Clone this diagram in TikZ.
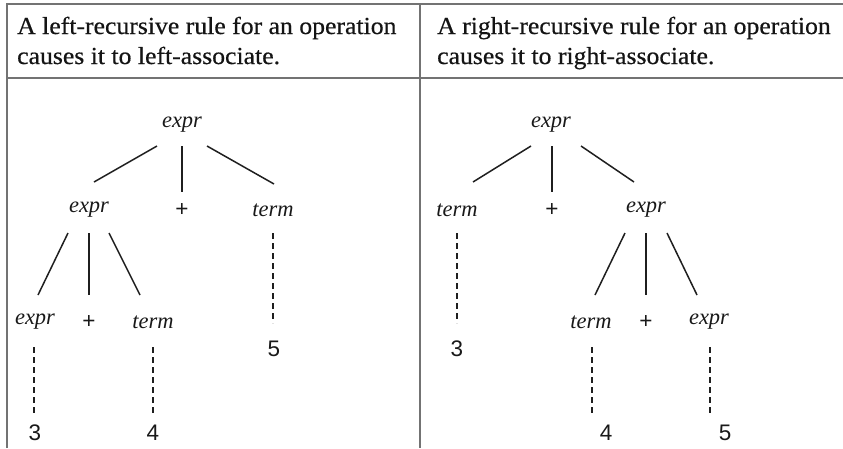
\documentclass[tikz,border=0pt]{standalone}
\usepackage{fontspec}
\setmainfont{Liberation Serif}
\newfontfamily\headfont[FakeStretch=1.05,FakeBold=0.5]{Liberation Serif}
\newfontfamily\symfont{Liberation Sans}
\begin{document}
\begin{tikzpicture}[x=1pt,y=-1pt,
  frame/.style={draw=black!55,line width=1.6pt},
  headtext/.style={anchor=base west,inner sep=0pt,text=black!92,font=\headfont\fontsize{24.5}{29}\selectfont},
  sym/.style={inner sep=0pt,text=black!90,font=\itshape\fontsize{22.5}{24}\selectfont},
  num/.style={inner sep=0pt,text=black!90,font=\symfont\fontsize{22.5}{24}\selectfont},
  branch/.style={draw=black!88,line width=1.5pt},
  leaf/.style={draw=black!88,line width=1.5pt,dash pattern=on 6pt off 4pt}]
\useasboundingbox (0,0) rectangle (843,448);
% frame
\draw[frame] (7,448) -- (7,4) -- (843,4);
\draw[frame] (7,78) -- (843,78);
\draw[frame] (420,4) -- (420,448);
% headers
\node[headtext] (h1) at (17,34) {A left-recursive rule for an operation};
\node[headtext] (h2) at (17,64) {causes it to left-associate.};
\node[headtext] (h3) at (437,34) {A right-recursive rule for an operation};
\node[headtext] (h4) at (437,64) {causes it to right-associate.};
% left tree
\node[sym] (L0) at (182,125) {expr};
\node[sym] (L1) at (89,210) {expr};
\node[num] (Lp1) at (182,210) {+};
\node[sym] (L1t) at (273,210) {term};
\node[sym] (L2) at (35,322) {expr};
\node[num] (Lp2) at (89,322) {+};
\node[sym] (L2t) at (153,322) {term};
\node[num] (L3) at (35,433) {3};
\node[num] (L4) at (153,433) {4};
\node[num] (L5) at (274,349) {5};
\draw[branch] ([shift={(-25,21)}]L0.center) -- ([shift={(5,-28)}]L1.center);
\draw[branch] ([shift={(0,21)}]L0.center) -- ([shift={(0,-18)}]Lp1.center);
\draw[branch] ([shift={(25,21)}]L0.center) -- ([shift={(1,-26)}]L1t.center);
\draw[branch] ([shift={(-21,23)}]L1.center) -- ([shift={(3,-27)}]L2.center);
\draw[branch] ([shift={(0,23)}]L1.center) -- ([shift={(0,-27)}]Lp2.center);
\draw[branch] ([shift={(20,23)}]L1.center) -- ([shift={(-13,-27)}]L2t.center);
\draw[leaf] ([shift={(0,23)}]L1t.center) -- ([shift={(-1,-26)}]L5.center);
\draw[leaf] ([shift={(-1,25)}]L2.center) -- ([shift={(-1,-20)}]L3.center);
\draw[leaf] ([shift={(0,25)}]L2t.center) -- ([shift={(0,-20)}]L4.center);
% right tree
\node[sym] (R0) at (551,125) {expr};
\node[sym] (R1t) at (457,210) {term};
\node[num] (Rp1) at (552,210) {+};
\node[sym] (R1) at (646,210) {expr};
\node[sym] (R2t) at (591,322) {term};
\node[num] (Rp2) at (646,322) {+};
\node[sym] (R2) at (709,322) {expr};
\node[num] (R3) at (457,349) {3};
\node[num] (R4) at (606,433) {4};
\node[num] (R5) at (725,433) {5};
\draw[branch] ([shift={(-20,21)}]R0.center) -- ([shift={(16,-28)}]R1t.center);
\draw[branch] ([shift={(1,21)}]R0.center) -- ([shift={(0,-18)}]Rp1.center);
\draw[branch] ([shift={(30,21)}]R0.center) -- ([shift={(-12,-28)}]R1.center);
\draw[branch] ([shift={(-21,23)}]R1.center) -- ([shift={(4,-27)}]R2t.center);
\draw[branch] ([shift={(0,23)}]R1.center) -- ([shift={(0,-27)}]Rp2.center);
\draw[branch] ([shift={(21,23)}]R1.center) -- ([shift={(-12,-27)}]R2.center);
\draw[leaf] ([shift={(0,23)}]R1t.center) -- ([shift={(0,-26)}]R3.center);
\draw[leaf] ([shift={(1,25)}]R2t.center) -- ([shift={(-14,-20)}]R4.center);
\draw[leaf] ([shift={(1,25)}]R2.center) -- ([shift={(-15,-20)}]R5.center);
\end{tikzpicture}
\end{document}
